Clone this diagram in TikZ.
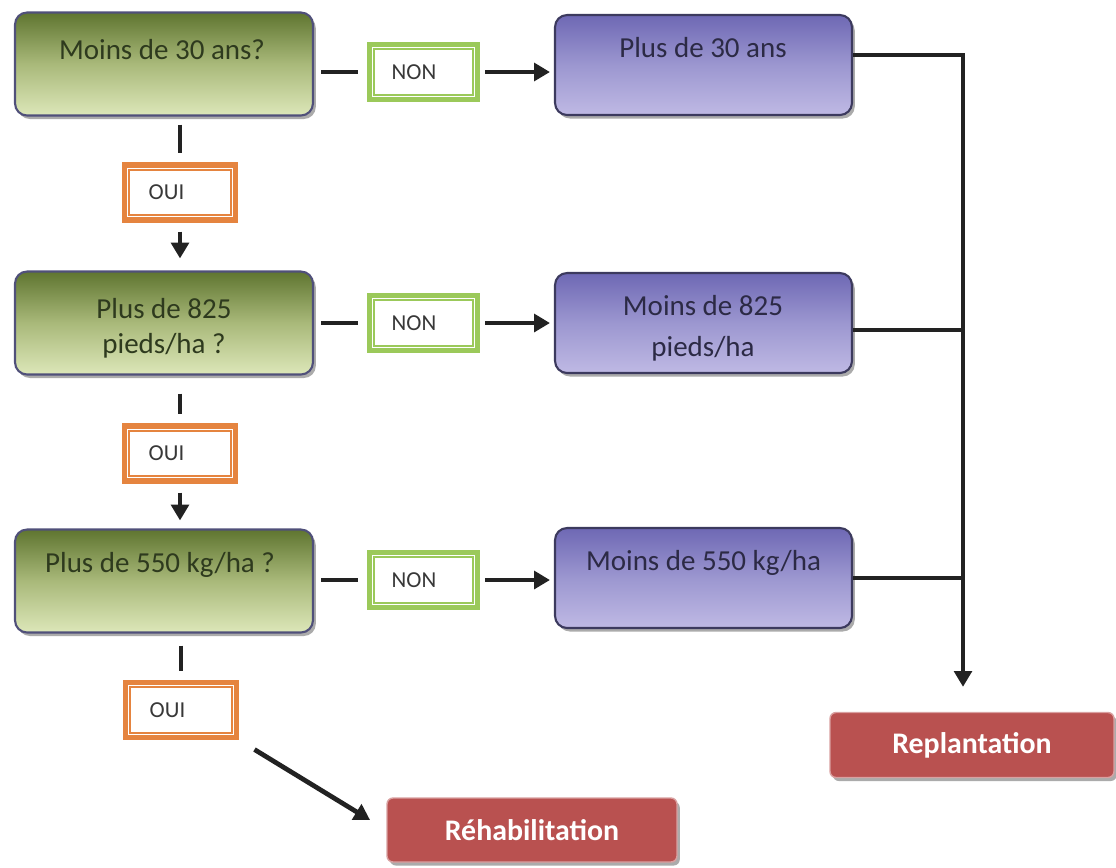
\documentclass[tikz,border=0pt]{standalone}
\usepackage{fontspec}
\setmainfont{Carlito}
\usetikzlibrary{arrows.meta,shadows}
\definecolor{gtop}{HTML}{5F7530}
\definecolor{gmid}{HTML}{A9B97A}
\definecolor{gbot}{HTML}{DDE7B9}
\definecolor{gedge}{HTML}{50507A}
\definecolor{ptop}{HTML}{6E68B4}
\definecolor{pmid}{HTML}{9C97D0}
\definecolor{pbot}{HTML}{BFB9E4}
\definecolor{pedge}{HTML}{3C3A5E}
\definecolor{rfill}{HTML}{B95150}
\definecolor{redge}{HTML}{D9A0A0}
\definecolor{ngreen}{HTML}{9BC95A}
\definecolor{oorange}{HTML}{E5843F}
\definecolor{ink}{HTML}{222222}
\definecolor{tgreen}{HTML}{2E3A1E}
\definecolor{tpurple}{HTML}{2C2A45}
\begin{document}
\begin{tikzpicture}[x=0.02cm,y=-0.02cm,
  every node/.style={inner sep=0pt},
  shad/.style={drop shadow={shadow xshift=1.6pt,shadow yshift=-2pt,fill=black!60,opacity=0.55}},
  gbox/.style={shad, draw=gedge, line width=1.2pt, rounded corners=0.24cm,
    top color=gtop, bottom color=gbot, middle color=gmid,
    minimum width=5.96cm, minimum height=2.06cm},
  pbox/.style={shad, draw=pedge, line width=1.2pt, rounded corners=0.24cm,
    top color=ptop, bottom color=pbot, middle color=pmid,
    minimum width=5.94cm, minimum height=2.0cm},
  gtxt/.style={anchor=base, text=tgreen, font=\fontsize{16.5}{20}\selectfont},
  ptxt/.style={anchor=base, text=tpurple, font=\fontsize{16.5}{20}\selectfont},
  nbox/.style={draw=ngreen, line width=3pt, fill=white, minimum width=2.16cm, minimum height=1.1cm},
  obox/.style={draw=oorange, line width=3pt, fill=white, minimum width=2.22cm, minimum height=1.1cm},
  ltxt/.style={text=ink!90, font=\fontsize{13}{15}\selectfont},
  rbox/.style={shad, fill=rfill, draw=redge, line width=0.8pt, rounded corners=0.12cm,
    text=white, font=\bfseries\fontsize{17}{20}\selectfont},
  ln/.style={draw=ink, line width=2.7pt},
  arr/.style={ln, -{Triangle[length=9pt,width=10pt]}}
]
\useasboundingbox[fill=white] (0,0) rectangle (1116,867);

% green decision boxes
\node[gbox] (g1) at (164,64) {};
\node[gbox] (g2) at (164,323) {};
\node[gbox] (g3) at (164,581) {};
\node[gtxt] (g1t) at (162,59) {Moins de 30 ans?};
\node[gtxt] (g2a) at (164,318) {Plus de 825};
\node[gtxt] (g2b) at (164,353) {pieds/ha ?};
\node[gtxt] (g3t) at (160,572) {Plus de 550 kg/ha ?};

% purple outcome boxes
\node[pbox] (p1) at (703.5,65) {};
\node[pbox] (p2) at (703.5,323) {};
\node[pbox] (p3) at (703.5,578) {};
\node[ptxt] (p1t) at (703,57) {Plus de 30 ans};
\node[ptxt] (p2a) at (703,315) {Moins de 825};
\node[ptxt] (p2b) at (703,356) {pieds/ha};
\node[ptxt] (p3t) at (703.5,570) {Moins de 550 kg/ha};

% NON boxes
\node[nbox] (n1) at (423.5,72) {};
\node[nbox] (n2) at (423.5,323) {};
\node[nbox] (n3) at (423.5,580) {};
\foreach \n in {n1,n2,n3}{
  \draw[ngreen, line width=0.9pt] ([shift={(4.2pt,-4.2pt)}]\n.north west) rectangle ([shift={(-4.2pt,4.2pt)}]\n.south east);
  \node[ltxt] (\n t) at ([xshift=-0.19cm]\n.center) {NON};
}

% OUI boxes
\node[obox] (o1) at (180,192.5) {};
\node[obox] (o2) at (180,453.5) {};
\node[obox] (o3) at (181,710) {};
\foreach \o in {o1,o2,o3}{
  \draw[oorange, line width=0.9pt] ([shift={(4.2pt,-4.2pt)}]\o.north west) rectangle ([shift={(-4.2pt,4.2pt)}]\o.south east);
  \node[ltxt] (\o t) at ([xshift=-0.27cm]\o.center) {OUI};
}

% final boxes
\node[rbox, minimum width=5.68cm, minimum height=1.3cm] (rep) at (972,745) {Replantation};
\node[rbox, minimum width=5.8cm, minimum height=1.28cm] (reh) at (532,830) {Réhabilitation};

% horizontal connectors
\draw[ln, shorten <=0.14cm, shorten >=0.18cm] (g1.east |- n1.west) -- (n1.west);
\draw[ln, shorten <=0.14cm, shorten >=0.18cm] (g2.east |- n2.west) -- (n2.west);
\draw[ln, shorten <=0.14cm, shorten >=0.18cm] (g3.east |- n3.west) -- (n3.west);
\draw[arr, shorten <=0.1cm, shorten >=0.08cm] (n1.east) -- (p1.west |- n1.east);
\draw[arr, shorten <=0.1cm, shorten >=0.08cm] (n2.east) -- (p2.west |- n2.east);
\draw[arr, shorten <=0.1cm, shorten >=0.08cm] (n3.east) -- (p3.west |- n3.east);

% vertical connectors
\draw[ln, shorten <=0.16cm, shorten >=0.18cm] (o1.north |- g1.south) -- (o1.north);
\draw[arr, shorten <=0.18cm, shorten >=0.24cm] (o1.south) -- (o1.south |- g2.north);
\draw[ln, shorten <=0.36cm, shorten >=0.18cm] (o2.north |- g2.south) -- (o2.north);
\draw[arr, shorten <=0.18cm, shorten >=0.16cm] (o2.south) -- (o2.south |- g3.north);
\draw[ln, shorten <=0.24cm, shorten >=0.18cm] (o3.north |- g3.south) -- (o3.north);
\draw[arr, shorten <=0.36cm, shorten >=0.38cm] (o3.south east) -- (reh.west);

% right collector
\coordinate (j1) at (963,55);
\coordinate (j2) at (963,330);
\coordinate (j3) at (963,578);
\draw[arr, shorten >=0.5cm] (p1.east |- j1) -- (j1) -- (j1 |- rep.north);
\draw[ln] (p2.east |- j2) -- (j2);
\draw[ln] (p3.east |- j3) -- (j3);
\end{tikzpicture}
\end{document}
